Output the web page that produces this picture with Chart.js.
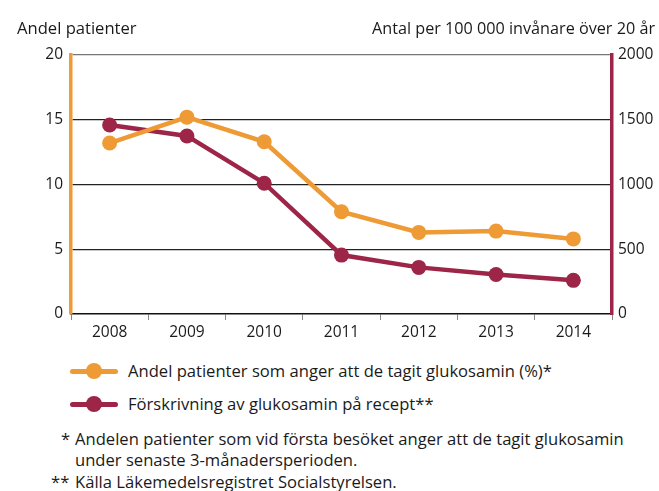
<!DOCTYPE html>
<html>
<head>
<meta charset="utf-8">
<script src="https://cdn.jsdelivr.net/npm/chart.js@4"></script>
<style>
  html, body { margin: 0; padding: 0; background: #fff; }
  body { width: 659px; height: 491px; position: relative; overflow: hidden;
         font-family: "Open Sans", sans-serif; color: #1a1a1a; }
  #wrap { position: absolute; left: 0; top: 0; width: 659px; height: 345px; }
  .t { position: absolute; white-space: nowrap; font-size: 16.6px; line-height: 20px; }
  .sw { position: absolute; width: 48px; height: 5px; border-radius: 2.5px; }
  .dot { position: absolute; width: 16px; height: 16px; border-radius: 50%; }
</style>
</head>
<body>
<div id="wrap"><canvas id="c" width="659" height="345"></canvas></div>
<div class="t" id="ltitle" style="left:17px; top:18px; font-size:16.6px;"></div>
<div class="t" id="rtitle" style="right:4px; top:18px; font-size:16.2px;"></div>

<div class="sw" style="left:70px; top:368.5px; background:#EE9A35;"></div>
<div class="dot" style="left:86px; top:363px; background:#EE9A35;"></div>
<div class="t" id="leg0" style="left:128px; top:361px;"></div>
<div class="sw" style="left:70px; top:401.5px; background:#9C2548;"></div>
<div class="dot" style="left:86px; top:396px; background:#9C2548;"></div>
<div class="t" id="leg1" style="left:128px; top:394px;"></div>

<div class="t" style="left:61px; top:429px;">*</div>
<div class="t" style="left:75px; top:429px;">Andelen patienter som vid första besöket anger att de tagit glukosamin</div>
<div class="t" style="left:75px; top:450px;">under senaste 3-månadersperioden.</div>
<div class="t" style="left:51px; top:472px;">**</div>
<div class="t" style="left:75px; top:472px;">Källa Läkemedelsregistret Socialstyrelsen.</div>

<script>
const years = ["2008", "2009", "2010", "2011", "2012", "2013", "2014"];
const andelPatienter = [13.2, 15.2, 13.3, 7.9, 6.3, 6.4, 5.8];
const forskrivning = [1460, 1375, 1010, 455, 360, 305, 260];
const seriesNames = ["Andel patienter som anger att de tagit glukosamin (%)*", "Förskrivning av glukosamin på recept**"];
const leftTitle = "Andel patienter";
const rightTitle = "Antal per 100 000 invånare över 20 år";

document.getElementById('ltitle').textContent = leftTitle;
document.getElementById('rtitle').textContent = rightTitle;
document.getElementById('leg0').textContent = seriesNames[0];
document.getElementById('leg1').textContent = seriesNames[1];

const ORANGE = '#EE9A35';
const RED = '#9C2548';
const FONT = { family: '"Open Sans", sans-serif', size: 15.5 };

new Chart(document.getElementById('c'), {
  type: 'line',
  data: {
    labels: years,
    datasets: [
      { label: seriesNames[0], data: andelPatienter, yAxisID: 'y',
        borderColor: ORANGE, backgroundColor: ORANGE, borderWidth: 4.5,
        pointRadius: 7.5, pointHoverRadius: 7.5, pointBorderWidth: 0, tension: 0 },
      { label: seriesNames[1], data: forskrivning, yAxisID: 'y1',
        borderColor: RED, backgroundColor: RED, borderWidth: 4.5,
        pointRadius: 7.5, pointHoverRadius: 7.5, pointBorderWidth: 0, tension: 0 }
    ]
  },
  options: {
    responsive: false,
    animation: false,
    layout: { padding: { top: 55, left: 0, right: 0, bottom: 0 } },
    plugins: { legend: { display: false }, tooltip: { enabled: false } },
    scales: {
      x: {
        offset: true,
        afterFit: s => { s.height = 31; },
        grid: { display: true, drawOnChartArea: false, drawTicks: true, tickLength: 6, color: '#888', offset: true },
        border: { display: true, color: '#111', width: 1.5 },
        ticks: { color: '#1a1a1a', font: FONT, padding: 3 }
      },
      y: {
        position: 'left', min: 0, max: 20,
        afterFit: s => { s.width = 71; },
        ticks: { stepSize: 5, color: '#1a1a1a', font: FONT, padding: 8, callback: v => String(v) },
        grid: { drawTicks: false, color: ctx => ctx.tick && ctx.tick.value === 20 ? '#777' : (ctx.tick && ctx.tick.value === 0 ? 'rgba(0,0,0,0)' : '#222'), lineWidth: 1.2 },
        border: { color: ORANGE, width: 3.5 }
      },
      y1: {
        position: 'right', min: 0, max: 2000,
        afterFit: s => { s.width = 47; },
        ticks: { stepSize: 500, color: '#1a1a1a', font: FONT, padding: 6, callback: v => String(v) },
        grid: { drawOnChartArea: false, drawTicks: false },
        border: { color: RED, width: 3.5 }
      }
    }
  }
});
</script>
</body>
</html>
